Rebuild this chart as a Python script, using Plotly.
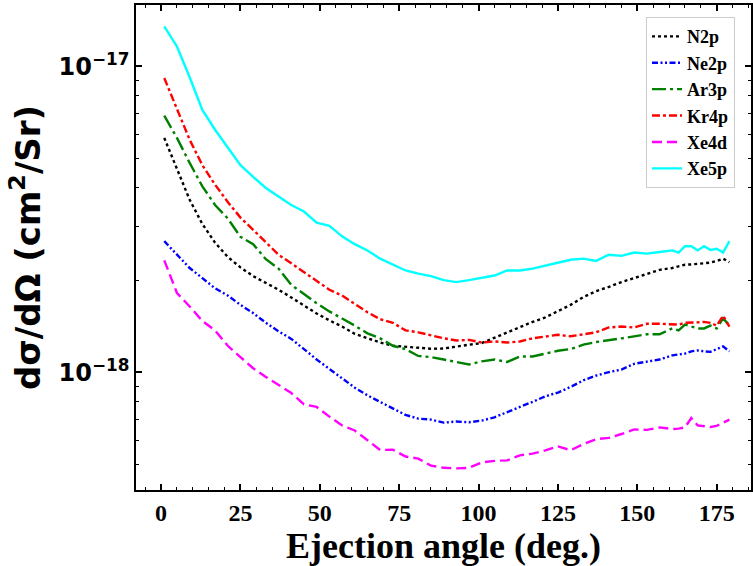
import plotly.graph_objects as go

# Ejection angle (deg.)
angle = [1, 5, 9, 13, 17, 21, 25, 29, 33, 37, 41, 45, 49, 53, 57, 61, 65, 69, 73, 77,
         81, 85, 89, 93, 97, 101, 105, 109, 113, 117, 121, 125, 129, 133, 137, 141, 145,
         149, 153, 157, 161, 163, 165, 167, 169, 171, 173, 175, 177, 179]

# Cross sections in units of 1e-18 cm^2/Sr
n2p = [5.83, 4.63, 3.66, 3.05, 2.65, 2.38, 2.20, 2.06, 1.96, 1.86, 1.755, 1.65, 1.555, 1.477,
       1.41, 1.335, 1.29, 1.25, 1.22, 1.21, 1.20, 1.193, 1.195, 1.214, 1.23, 1.245, 1.295,
       1.355, 1.405, 1.46, 1.51, 1.58, 1.66, 1.76, 1.84, 1.90, 1.97, 2.03, 2.09, 2.16,
       2.19, 2.22, 2.245, 2.25, 2.26, 2.27, 2.28, 2.31, 2.35, 2.29]
ne2p = [2.68, 2.42, 2.19, 2.03, 1.88, 1.78, 1.66, 1.56, 1.45, 1.36, 1.285, 1.19, 1.10, 1.025,
        0.955, 0.89, 0.84, 0.80, 0.76, 0.725, 0.705, 0.70, 0.684, 0.69, 0.686, 0.695, 0.712,
        0.742, 0.77, 0.80, 0.834, 0.858, 0.895, 0.94, 0.975, 1.0, 1.02, 1.065, 1.08, 1.10,
        1.135, 1.145, 1.15, 1.17, 1.178, 1.17, 1.165, 1.19, 1.214, 1.17]
ar3p = [6.89, 5.83, 4.83, 4.05, 3.52, 3.18, 2.77, 2.62, 2.34, 2.18, 1.93, 1.80, 1.68, 1.58,
        1.50, 1.42, 1.34, 1.29, 1.22, 1.19, 1.13, 1.12, 1.10, 1.08, 1.06, 1.085, 1.10,
        1.08, 1.125, 1.125, 1.15, 1.175, 1.19, 1.23, 1.255, 1.27, 1.29, 1.31, 1.33, 1.33,
        1.39, 1.37, 1.43, 1.41, 1.39, 1.39, 1.42, 1.39, 1.50, 1.42]
kr4p = [9.15, 7.2, 5.75, 4.75, 4.1, 3.6, 3.2, 2.92, 2.65, 2.42, 2.27, 2.12, 1.98, 1.86,
        1.78, 1.67, 1.57, 1.49, 1.45, 1.37, 1.35, 1.32, 1.29, 1.27, 1.275, 1.25, 1.26,
        1.25, 1.26, 1.29, 1.31, 1.325, 1.31, 1.33, 1.35, 1.40, 1.41, 1.40, 1.44, 1.44,
        1.43, 1.43, 1.45, 1.45, 1.455, 1.46, 1.45, 1.42, 1.53, 1.41]
xe4d = [2.32, 1.815, 1.64, 1.47, 1.37, 1.22, 1.12, 1.03, 0.965, 0.91, 0.855, 0.785, 0.77,
        0.716, 0.67, 0.645, 0.60, 0.557, 0.558, 0.53, 0.522, 0.495, 0.487, 0.485, 0.487,
        0.507, 0.513, 0.515, 0.535, 0.542, 0.555, 0.572, 0.556, 0.582, 0.604, 0.61, 0.628,
        0.65, 0.648, 0.66, 0.652, 0.654, 0.66, 0.708, 0.67, 0.665, 0.662, 0.668, 0.685, 0.70]
xe5p = [13.5, 11.6, 9.2, 7.2, 6.2, 5.45, 4.75, 4.35, 4.0, 3.75, 3.52, 3.35, 3.08, 3.01,
        2.78, 2.62, 2.50, 2.35, 2.25, 2.15, 2.10, 2.06, 2.00, 1.97, 2.00, 2.03, 2.07, 2.15,
        2.15, 2.18, 2.23, 2.28, 2.33, 2.35, 2.31, 2.42, 2.40, 2.46, 2.44, 2.47, 2.50, 2.46,
        2.58, 2.58, 2.50, 2.58, 2.51, 2.53, 2.46, 2.68]

series_names = ["N2p", "Ne2p", "Ar3p", "Kr4p", "Xe4d", "Xe5p"]
series_values = [n2p, ne2p, ar3p, kr4p, xe4d, xe5p]
colors = ["#000000", "#0000ff", "#008000", "#ff0000", "#ff00ff", "#00ffff"]
dashes = ["3px,3px", "6px,2.5px,2px,2.5px,2px,2.5px", "14px,4px,3px,4px",
          "8px,3px,3px,3px", "10px,5px", "solid"]

x_ticks = [0, 25, 50, 75, 100, 125, 150, 175]
y_major = [1e-18, 1e-17]
y_major_text = ["10<sup>\u221218</sup>", "10<sup>\u221217</sup>"]
y_minor = [m * 1e-19 for m in range(2, 10)] + [m * 1e-18 for m in range(2, 10)] + [2e-17]

fig = go.Figure()
for name, vals, c, d in zip(series_names, series_values, colors, dashes):
    fig.add_trace(go.Scatter(
        x=angle, y=[v * 1e-18 for v in vals], mode="lines", name=name,
        line=dict(color=c, width=2.4, dash=d),
    ))

serif_bold = dict(family="Liberation Serif, Times New Roman, serif", color="black", weight="bold")
sans_bold = dict(family="DejaVu Sans, sans-serif", color="black", weight="bold")

fig.update_layout(
    width=753, height=566,
    margin=dict(l=136, r=0, t=5, b=76),
    paper_bgcolor="white", plot_bgcolor="white",
    showlegend=True,
    legend=dict(
        x=0.974, y=0.975, xanchor="right", yanchor="top",
        bgcolor="white", bordercolor="#cccccc", borderwidth=1,
        font=dict(size=18, **serif_bold),
        entrywidth=60, entrywidthmode="pixels",
    ),
    xaxis=dict(
        range=[-7.9, 185.8],
        tickvals=x_ticks, ticks="inside", ticklen=6, tickwidth=1.5, tickcolor="black",
        showline=True, linecolor="black", linewidth=1.5, mirror="ticks",
        showgrid=False, zeroline=False,
        tickfont=dict(size=24, **serif_bold),
        minor=dict(dtick=5, ticks="inside", ticklen=3, tickwidth=1, tickcolor="black", showgrid=False),
        title=dict(text="Ejection angle (deg.)", font=dict(size=36, **serif_bold), standoff=2),
    ),
    yaxis=dict(
        type="log", range=[-18.385, -16.8],
        tickmode="array", tickvals=y_major, ticktext=y_major_text,
        ticks="inside", ticklen=6, tickwidth=1.5, tickcolor="black",
        showline=True, linecolor="black", linewidth=1.5, mirror="ticks",
        showgrid=False, zeroline=False,
        tickfont=dict(size=24, **sans_bold),
        minor=dict(tickmode="array", tickvals=y_minor, ticks="inside", ticklen=3,
                   tickwidth=1, tickcolor="black", showgrid=False),
        title=dict(text="d\u03c3/d\u03a9 (cm<sup>2</sup>/Sr)", font=dict(size=34, **sans_bold), standoff=8),
    ),
)

fig.write_html("out.html")
